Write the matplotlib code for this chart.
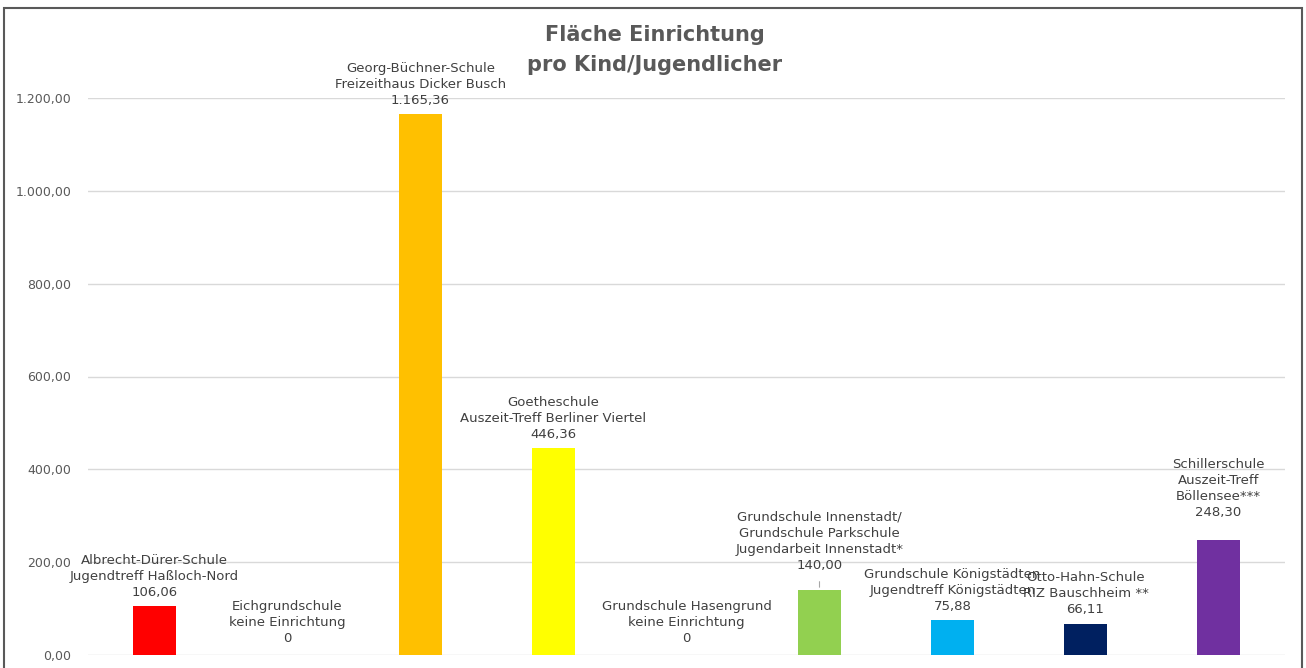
"""
plot.py
Fläche Einrichtung pro Kind/Jugendlicher — bar chart
"""

import numpy as np
import matplotlib.pyplot as plt
from matplotlib.patches import Rectangle

# -----------------------------------------------------------------------
# Data
# -----------------------------------------------------------------------

schools = [
    "Albrecht-Dürer-Schule\nJugendtreff Haßloch-Nord",
    "Eichgrundschule\nkeine Einrichtung",
    "Georg-Büchner-Schule\nFreizeithaus Dicker Busch",
    "Goetheschule\nAuszeit-Treff Berliner Viertel",
    "Grundschule Hasengrund\nkeine Einrichtung",
    "Grundschule Innenstadt/\nGrundschule Parkschule\nJugendarbeit Innenstadt*",
    "Grundschule Königstädten\nJugendtreff Königstädten",
    "Otto-Hahn-Schule\nRIZ Bauschheim **",
    "Schillerschule\nAuszeit-Treff\nBöllensee***",
]
area = [106.06, 0, 1165.36, 446.36, 0, 140.00, 75.88, 66.11, 248.30]
value_text = ["106,06", "0", "1.165,36", "446,36", "0", "140,00", "75,88", "66,11", "248,30"]
bar_colors = ["#FF0000", "#FFFFFF", "#FFC000", "#FFFF00", "#FFFFFF",
              "#92D050", "#00B0F0", "#002060", "#7030A0"]
y_ticks = [0, 200, 400, 600, 800, 1000, 1200]
y_tick_labels = ["0,00", "200,00", "400,00", "600,00", "800,00", "1.000,00", "1.200,00"]

# label offsets above bar top (points)
label_offset = [5, 7, 5, 5, 7, 13, 5, 6, 15]

GREY = "#595959"

plt.rcParams["font.family"] = ["DejaVu Sans"]

fig = plt.figure(figsize=(13.06, 6.68), dpi=100)
ax = fig.add_axes([88 / 1306, 1 - 655 / 668, 1197 / 1306, 557 / 668])

x = np.arange(len(schools))
ax.bar(x, area, width=0.316, color=bar_colors, zorder=3)

for i, (lbl, val, txt) in enumerate(zip(schools, area, value_text)):
    ax.annotate(lbl + "\n" + txt, xy=(i, val), xytext=(0, label_offset[i]),
                textcoords="offset points", ha="center", va="bottom",
                fontsize=9.5, color="#404040", linespacing=1.3, zorder=4)

# leader line for the Innenstadt label
ax.annotate("", xy=(5, area[5]), xytext=(0, 8), textcoords="offset points",
            arrowprops=dict(arrowstyle="-", color="#A6A6A6", lw=0.8))

ax.set_xlim(-0.5, len(schools) - 0.5)
ax.set_ylim(0, 1200)
ax.set_yticks(y_ticks)
ax.set_yticklabels(y_tick_labels, fontsize=9, color=GREY)
ax.set_xticks([])
ax.tick_params(axis="y", length=0, pad=12)
ax.grid(axis="y", color="#D9D9D9", lw=1, zorder=0)
for s in ax.spines.values():
    s.set_visible(False)

fig.text(655 / 1306, 1 - 50 / 668, "Fläche Einrichtung\npro Kind/Jugendlicher",
         ha="center", va="center", fontsize=15, fontweight="bold", color=GREY,
         linespacing=1.65)

# outer chart border
fig.patches.append(Rectangle((4 / 1306, -0.05), 1298 / 1306, 1 - 8 / 668 + 0.05,
                             transform=fig.transFigure, fill=False,
                             edgecolor="#595959", lw=1.5))

plt.savefig("out.png", dpi=100)
